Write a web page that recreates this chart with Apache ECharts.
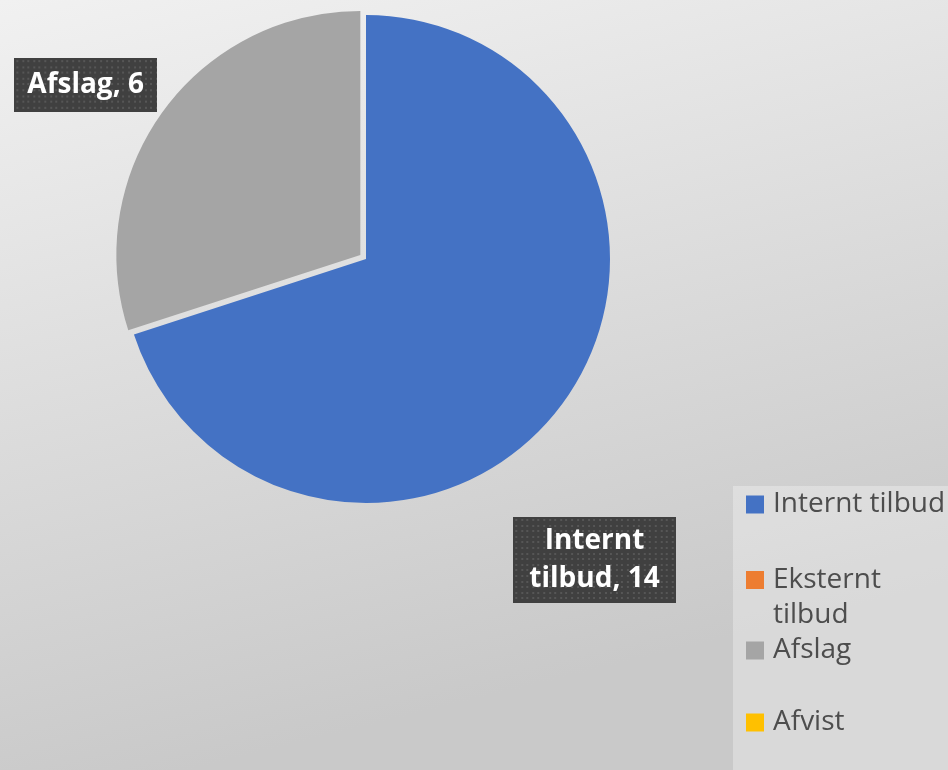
<!DOCTYPE html>
<html>
<head>
<meta charset="utf-8">
<script src="https://cdn.jsdelivr.net/npm/echarts@6/dist/echarts.min.js"></script>
<style>
html,body{margin:0;padding:0;}
#chart{width:948px;height:770px;}
</style>
</head>
<body>
<div id="chart"></div>
<script>
// ---- data ----
var categories = ['Internt tilbud', 'Eksternt tilbud', 'Afslag', 'Afvist'];
var values = [14, 0, 6, 0];
var colors = ['#4472C4', '#ED7D31', '#A5A5A5', '#FFC000'];
var explodedCategory = 'Afslag';

function dotPattern(w, h) {
  var c = document.createElement('canvas');
  c.width = w; c.height = h;
  var g = c.getContext('2d');
  g.fillStyle = '#404040';
  g.fillRect(0, 0, w, h);
  g.fillStyle = '#565656';
  var step = 5.6;
  for (var y = 2; y < h; y += step) {
    for (var x = 2; x < w; x += step) {
      g.fillRect(Math.round(x), Math.round(y), 2, 2);
    }
  }
  return c;
}

// label boxes (styling / placement only)
var labelBoxes = {
  'Internt tilbud': { w: 163, h: 86, pad: [5, 16], text: 'Internt\ntilbud, ', layout: { x: 594.5, y: 560 } },
  'Afslag': { w: 143, h: 52, pad: [8, 13], text: 'Afslag, ', edge: 20, lineLen: 45 }
};

var pieData = categories.map(function (name, i) {
  var item = { name: name, value: values[i], itemStyle: { color: colors[i] } };
  if (name === explodedCategory) item.selected = true;
  var box = labelBoxes[name];
  if (values[i] === 0 || !box) {
    item.label = { show: false };
  } else {
    item.label = {
      show: true,
      backgroundColor: { image: dotPattern(box.w, box.h) },
      padding: box.pad,
      formatter: box.text + values[i]
    };
    if (box.edge != null) {
      item.label.alignTo = 'edge';
      item.label.edgeDistance = box.edge;
      item.labelLine = { show: false, length: box.lineLen, length2: 0 };
    }
  }
  return item;
});

var chart = echarts.init(document.getElementById('chart'), null, { renderer: 'canvas' });

var legendTextStyle = {
  fontFamily: 'Open Sans',
  fontSize: 28,
  color: '#4d4d4d',
  lineHeight: 35,
  padding: [0, 0, 0, 4]
};
var legendTops = [487, 527.5, 633, 705];
var legends = categories.map(function (name, i) {
  return {
    data: [name],
    orient: 'vertical',
    left: 746,
    top: legendTops[i],
    padding: 0,
    itemWidth: 18,
    itemHeight: 18,
    icon: 'rect',
    selectedMode: false,
    textStyle: legendTextStyle,
    formatter: function (n) {
      if (n === 'Eksternt tilbud') return '\nEksternt\ntilbud';
      return n;
    }
  };
});

chart.setOption({
  backgroundColor: {
    type: 'linear', x: 0, y: 0, x2: 0.2, y2: 1,
    colorStops: [{ offset: 0, color: '#f1f1f1' }, { offset: 1, color: '#c9c9c9' }]
  },
  animation: false,
  graphic: [{
    type: 'rect',
    left: 733, top: 486,
    shape: { width: 215, height: 284 },
    style: { fill: 'rgba(255,255,255,0.3)' },
    silent: true,
    z: 0
  }],
  legend: legends,
  series: [{
    type: 'pie',
    center: [366, 259],
    radius: 244,
    startAngle: 90,
    clockwise: true,
    selectedMode: 'single',
    selectedOffset: 7,
    avoidLabelOverlap: false,
    itemStyle: { borderWidth: 0 },
    emphasis: { disabled: true },
    label: {
      position: 'outside',
      fontFamily: 'Open Sans',
      fontWeight: 'bold',
      fontSize: 28,
      lineHeight: 38,
      color: '#ffffff',
      align: 'center'
    },
    labelLine: { show: false },
    labelLayout: function (params) {
      var box = labelBoxes[categories[params.dataIndex]];
      if (!box || !box.layout) return {};
      return { x: box.layout.x, y: box.layout.y, align: 'center', verticalAlign: 'middle' };
    },
    data: pieData
  }]
});
</script>
</body>
</html>
